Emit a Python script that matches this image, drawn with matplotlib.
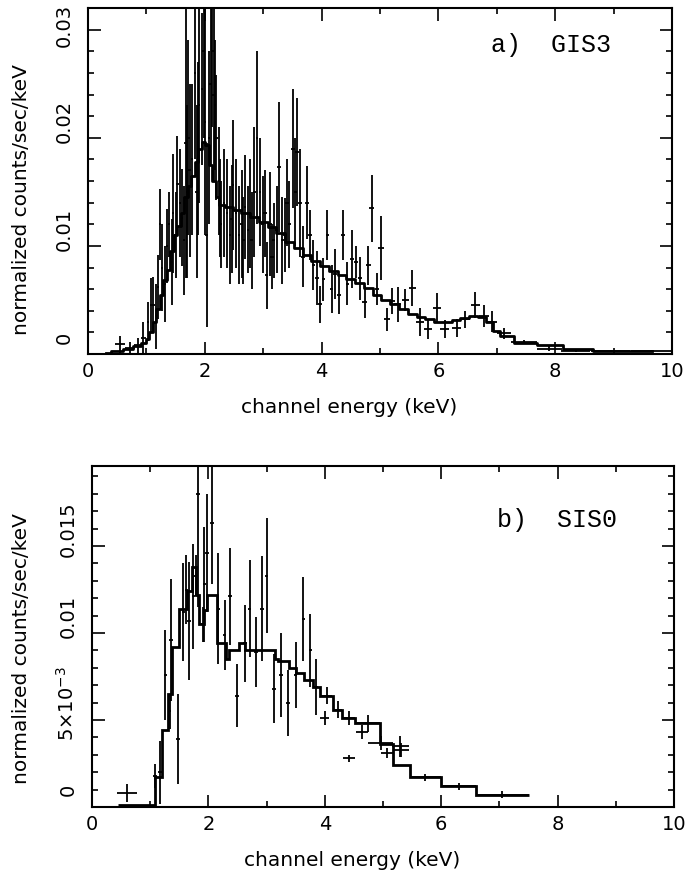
import matplotlib
matplotlib.use("Agg")
import matplotlib.pyplot as plt
from matplotlib.ticker import MultipleLocator, FixedLocator, FixedFormatter
from matplotlib.transforms import ScaledTranslation

# ---------------- GIS3 data (panel a) ----------------
gis_energy = [0.55, 0.72, 0.85, 0.95, 1.03, 1.08, 1.12, 1.16, 1.20, 1.23, 1.27, 1.31,
              1.35, 1.39, 1.43, 1.46, 1.50, 1.53, 1.57, 1.61, 1.64, 1.67, 1.70, 1.72,
              1.74, 1.78, 1.83, 1.86, 1.88, 1.90, 1.95, 1.98, 2.00, 2.03, 2.07, 2.10,
              2.13, 2.15, 2.17, 2.20, 2.24, 2.26, 2.28, 2.33, 2.38, 2.43, 2.46, 2.48,
              2.53, 2.58, 2.63, 2.66, 2.69, 2.74, 2.77, 2.80, 2.85, 2.89, 2.94, 2.99,
              3.03, 3.06, 3.12, 3.15, 3.18, 3.23, 3.27, 3.33, 3.37, 3.41, 3.45, 3.51,
              3.55, 3.58, 3.63, 3.68, 3.75, 3.80, 3.86, 3.92, 3.97, 4.03, 4.10, 4.17,
              4.23, 4.30, 4.37, 4.44, 4.52, 4.59, 4.66, 4.74, 4.80, 4.86, 4.95, 5.02,
              5.12, 5.20, 5.30, 5.43, 5.55, 5.69, 5.82, 5.97, 6.11, 6.31, 6.46, 6.63,
              6.78, 6.92, 7.13, 7.47, 7.90, 8.35, 8.95, 9.65]
gis_halfwidth = [0.08, 0.08, 0.06, 0.04, 0.02, 0.02, 0.02, 0.02, 0.02, 0.02, 0.02, 0.02,
                 0.02, 0.02, 0.02, 0.02, 0.02, 0.02, 0.02, 0.02, 0.02, 0.02, 0.02, 0.02,
                 0.02, 0.02, 0.02, 0.02, 0.02, 0.02, 0.02, 0.02, 0.02, 0.02, 0.02, 0.02,
                 0.02, 0.02, 0.02, 0.02, 0.02, 0.02, 0.02, 0.02, 0.02, 0.02, 0.02, 0.02,
                 0.02, 0.02, 0.02, 0.02, 0.02, 0.02, 0.02, 0.02, 0.02, 0.02, 0.02, 0.02,
                 0.03, 0.03, 0.03, 0.03, 0.03, 0.03, 0.03, 0.03, 0.03, 0.03, 0.03, 0.03,
                 0.03, 0.03, 0.03, 0.03, 0.03, 0.03, 0.03, 0.03, 0.03, 0.03, 0.03, 0.03,
                 0.03, 0.03, 0.03, 0.03, 0.04, 0.04, 0.04, 0.04, 0.04, 0.04, 0.04, 0.05,
                 0.05, 0.05, 0.06, 0.06, 0.06, 0.07, 0.07, 0.07, 0.08, 0.08, 0.08, 0.08,
                 0.08, 0.08, 0.12, 0.22, 0.22, 0.25, 0.33, 0.35]
gis_rate = [0.0009, 0.0006, 0.0008, 0.0015, 0.0030, 0.0045, 0.0045, 0.0035, 0.0062, 0.0120, 0.0080, 0.0065,
            0.0100, 0.0120, 0.0085, 0.0130, 0.0110, 0.0157, 0.0140, 0.0126, 0.0105, 0.0195, 0.0150, 0.0200,
            0.0170, 0.0180, 0.0260, 0.0150, 0.0190, 0.0230, 0.0245, 0.0280, 0.0215, 0.0110, 0.0200, 0.0250,
            0.0280, 0.0240, 0.0230, 0.0200, 0.0160, 0.0135, 0.0120, 0.0140, 0.0130, 0.0110, 0.0125, 0.0156,
            0.0130, 0.0110, 0.0120, 0.0105, 0.0136, 0.0115, 0.0130, 0.0105, 0.0150, 0.0200, 0.0150, 0.0120,
            0.0130, 0.0073, 0.0120, 0.0090, 0.0105, 0.0115, 0.0173, 0.0105, 0.0110, 0.0140, 0.0120, 0.0190,
            0.0150, 0.0187, 0.0140, 0.0090, 0.0140, 0.0110, 0.0082, 0.0070, 0.0046, 0.0069, 0.0110, 0.0060,
            0.0074, 0.0055, 0.0110, 0.0065, 0.0088, 0.0085, 0.0070, 0.0048, 0.0082, 0.0135, 0.0060, 0.0098,
            0.0032, 0.0049, 0.0046, 0.0050, 0.0061, 0.0030, 0.0023, 0.0043, 0.0023, 0.0024, 0.0032, 0.0045,
            0.0035, 0.0030, 0.0019, 0.0011, 0.0005, 0.0003, 0.0003, 0.0003]
gis_error = [0.0008, 0.0005, 0.0007, 0.0015, 0.0018, 0.0025, 0.0026, 0.0030, 0.0030, 0.0033, 0.0040, 0.0035,
             0.0034, 0.0030, 0.0040, 0.0055, 0.0040, 0.0045, 0.0050, 0.0045, 0.0050, 0.0125, 0.0080, 0.0090,
             0.0080, 0.0070, 0.0080, 0.0080, 0.0080, 0.0090, 0.0070, 0.0080, 0.0105, 0.0085, 0.0080, 0.0075,
             0.0070, 0.0080, 0.0060, 0.0058, 0.0050, 0.0045, 0.0040, 0.0050, 0.0050, 0.0045, 0.0050, 0.0060,
             0.0050, 0.0045, 0.0050, 0.0040, 0.0048, 0.0040, 0.0050, 0.0045, 0.0060, 0.0080, 0.0050, 0.0045,
             0.0040, 0.0031, 0.0048, 0.0030, 0.0035, 0.0040, 0.0060, 0.0040, 0.0034, 0.0040, 0.0040, 0.0055,
             0.0050, 0.0050, 0.0050, 0.0028, 0.0034, 0.0023, 0.0023, 0.0025, 0.0017, 0.0020, 0.0023, 0.0022,
             0.0023, 0.0018, 0.0023, 0.0020, 0.0027, 0.0015, 0.0020, 0.0015, 0.0018, 0.0031, 0.0015, 0.0030,
             0.0011, 0.0012, 0.0016, 0.0010, 0.0017, 0.0013, 0.0009, 0.0013, 0.0008, 0.0008, 0.0008, 0.0012,
             0.0010, 0.0010, 0.0005, 0.0002, 0.0002, 0.0001, 0.0001, 0.0001]

# GIS3 model (step curve, bin centres)
gis_model_energy = [0.30, 0.50, 0.70, 0.85, 0.95, 1.02, 1.08, 1.14, 1.20, 1.26, 1.32, 1.38,
                    1.44, 1.50, 1.56, 1.62, 1.68, 1.74, 1.80, 1.86, 1.92, 1.98, 2.04, 2.10,
                    2.16, 2.22, 2.28, 2.40, 2.55, 2.70, 2.85, 3.00, 3.15, 3.30, 3.45, 3.60,
                    3.75, 3.90, 4.05, 4.20, 4.35, 4.50, 4.65, 4.80, 4.95, 5.10, 5.25, 5.40,
                    5.55, 5.70, 5.85, 6.00, 6.15, 6.30, 6.45, 6.60, 6.75, 6.88, 6.98, 7.13,
                    7.47, 7.90, 8.35, 8.95, 9.65]
gis_model_rate = [0.0001, 0.0003, 0.0005, 0.0007, 0.0010, 0.0014, 0.0020, 0.0030, 0.0042, 0.0055, 0.0068, 0.0078,
                  0.0095, 0.0110, 0.0118, 0.0130, 0.0145, 0.0155, 0.0165, 0.0178, 0.0190, 0.0196, 0.0193, 0.0175,
                  0.0160, 0.0145, 0.0138, 0.0136, 0.0133, 0.0130, 0.0127, 0.0122, 0.0117, 0.0112, 0.0104, 0.0098,
                  0.0092, 0.0086, 0.0081, 0.0077, 0.0073, 0.0069, 0.0066, 0.0061, 0.0055, 0.0050, 0.0046, 0.0042,
                  0.0037, 0.0034, 0.0032, 0.0030, 0.0030, 0.0031, 0.0033, 0.0035, 0.0034, 0.0030, 0.0021, 0.0017,
                  0.0010, 0.0008, 0.0005, 0.0003, 0.0003]

# ---------------- SIS0 data (panel b) ----------------
sis_energy = [0.60, 1.08, 1.17, 1.26, 1.34, 1.36, 1.48, 1.57, 1.62, 1.67, 1.74, 1.78,
              1.82, 1.90, 1.93, 1.98, 2.06, 2.17, 2.28, 2.37, 2.49, 2.63, 2.71, 2.82,
              2.92, 3.00, 3.13, 3.25, 3.37, 3.50, 3.63, 3.75, 3.85, 4.03, 4.00, 4.22,
              4.41, 4.42, 4.64, 4.75, 4.96, 5.07, 5.31, 5.30, 5.73, 6.30, 7.05]
sis_halfwidth = [0.17, 0.04, 0.03, 0.03, 0.02, 0.03, 0.03, 0.03, 0.03, 0.03, 0.03, 0.03,
                 0.03, 0.03, 0.03, 0.03, 0.03, 0.03, 0.03, 0.03, 0.03, 0.03, 0.03, 0.03,
                 0.03, 0.03, 0.03, 0.03, 0.03, 0.03, 0.03, 0.03, 0.03, 0.10, 0.08, 0.08,
                 0.11, 0.10, 0.11, 0.20, 0.21, 0.10, 0.14, 0.14, 0.27, 0.30, 0.45]
sis_rate = [0.0008, 0.0018, 0.0020, 0.0076, 0.0055, 0.0096, 0.0039, 0.0112, 0.0125, 0.0107, 0.0121, 0.0133,
            0.0180, 0.0105, 0.0128, 0.0146, 0.0163, 0.0114, 0.0099, 0.0121, 0.0064, 0.0094, 0.0114, 0.0089,
            0.0114, 0.0133, 0.0068, 0.0076, 0.0060, 0.0076, 0.0108, 0.0090, 0.0069, 0.0064, 0.0051, 0.0056,
            0.0051, 0.0028, 0.0043, 0.0048, 0.0037, 0.0031, 0.0033, 0.0035, 0.0017, 0.0012, 0.0007]
sis_error = [0.0005, 0.0007, 0.0018, 0.0026, 0.0010, 0.0035, 0.0026, 0.0028, 0.0020, 0.0034, 0.0030, 0.0012,
             0.0065, 0.0010, 0.0033, 0.0034, 0.0035, 0.0032, 0.0020, 0.0028, 0.0018, 0.0022, 0.0028, 0.0020,
             0.0030, 0.0033, 0.0020, 0.0024, 0.0019, 0.0019, 0.0024, 0.0021, 0.0016, 0.0005, 0.0004, 0.0005,
             0.0004, 0.0002, 0.0004, 0.0005, 0.0004, 0.0003, 0.0004, 0.0006, 0.0002, 0.0002, 0.0002]

# SIS0 model (bin edges and values)
sis_model_edges = [0.45, 1.08, 1.20, 1.30, 1.38, 1.50, 1.63, 1.72, 1.78, 1.84, 1.92, 1.98,
                   2.15, 2.30, 2.35, 2.52, 2.63, 2.75, 3.15, 3.20, 3.38, 3.50, 3.65, 3.80,
                   3.92, 4.14, 4.30, 4.52, 4.95, 5.17, 5.46, 6.00, 6.60, 7.50]
sis_model_rate = [0.0001, 0.0017, 0.0044, 0.0065, 0.0092, 0.0114, 0.0124, 0.0138, 0.0122, 0.0105, 0.0113,
                  0.0122, 0.0094, 0.0085, 0.0090, 0.0094, 0.0090, 0.0090, 0.0085, 0.0084, 0.0080, 0.0077,
                  0.0073, 0.0069, 0.0064, 0.0056, 0.0051, 0.0048, 0.0036, 0.0024, 0.0017, 0.0012, 0.0007]

x_ticks = [0, 2, 4, 6, 8, 10]
x_ticklabels = ["0", "2", "4", "6", "8", "10"]
top_yticks = [0, 0.01, 0.02, 0.03]
top_yticklabels = ["0", "0.01", "0.02", "0.03"]
bot_yticks = [0, 0.005, 0.01, 0.015]
bot_yticklabels = ["0", r"$5{\times}10^{-3}$", "0.01", "0.015"]

plt.rcParams['font.family'] = ['DejaVu Sans']
FS = 14

fig = plt.figure(figsize=(6.86, 8.78), dpi=100)
W, H = 686.0, 878.0
ax1 = fig.add_axes([88 / W, 1 - 355 / H, (672 - 88) / W, (355 - 9) / H])
ax2 = fig.add_axes([92 / W, 1 - 808 / H, (674 - 92) / W, (808 - 467) / H])


def style(ax, yticks, ylabels, ymax, yminor, xlab_xy, ylab_xy, shifts):
    ax.set_xlim(0, 10)
    ax.set_ylim(0, ymax)
    ax.xaxis.set_major_locator(FixedLocator(x_ticks))
    ax.xaxis.set_major_formatter(FixedFormatter(x_ticklabels))
    ax.xaxis.set_minor_locator(MultipleLocator(1))
    ax.yaxis.set_major_locator(FixedLocator(yticks))
    ax.yaxis.set_major_formatter(FixedFormatter(ylabels))
    ax.yaxis.set_minor_locator(MultipleLocator(yminor))
    ax.tick_params(which='both', direction='in', top=True, right=True,
                   width=1.2, labelsize=FS)
    ax.tick_params(which='major', length=9)
    ax.tick_params(which='minor', length=4)
    ax.tick_params(axis='x', pad=5)
    ax.tick_params(axis='y', pad=10)
    for lab, dy in zip(ax.get_yticklabels(), shifts):
        lab.set_rotation(90)
        lab.set_va('center')
        lab.set_transform(lab.get_transform() +
                          ScaledTranslation(0, dy / 100.0, fig.dpi_scale_trans))
    for s in ax.spines.values():
        s.set_linewidth(1.5)
    ax.set_xlabel("channel energy (keV)", fontsize=FS + 0.5)
    ax.set_ylabel("normalized counts/sec/keV", fontsize=FS + 0.5)
    ax.xaxis.set_label_coords(*xlab_xy)
    ax.yaxis.set_label_coords(*ylab_xy)


# Panel a
ax1.errorbar(gis_energy, gis_rate, xerr=gis_halfwidth, yerr=gis_error,
             fmt='none', ecolor='black', elinewidth=1.3, capsize=0)
ax1.step(gis_model_energy, gis_model_rate, where='mid', color='black', lw=2.0)
style(ax1, top_yticks, top_yticklabels, 0.032, 0.002,
      (0.447, -0.125), (-0.097, 0.448), [17, 17, 17, 5])
ax1.text(0.69, 0.895, "a)  GIS3", transform=ax1.transAxes, family='Liberation Mono',
         fontsize=18, va='center', ha='left')

# Panel b
ax2.errorbar(sis_energy, sis_rate, xerr=sis_halfwidth, yerr=sis_error,
             fmt='none', ecolor='black', elinewidth=1.3, capsize=0)
ax2.stairs(sis_model_rate, sis_model_edges, color='black', lw=2.0, baseline=None)
style(ax2, bot_yticks, bot_yticklabels, 0.0196, 0.001,
      (0.447, -0.127), (-0.105, 0.469), [18, 17, 18, 18])
ax2.text(0.696, 0.845, "b)  SIS0", transform=ax2.transAxes, family='Liberation Mono',
         fontsize=18, va='center', ha='left')

fig.savefig("out.png", dpi=100)
